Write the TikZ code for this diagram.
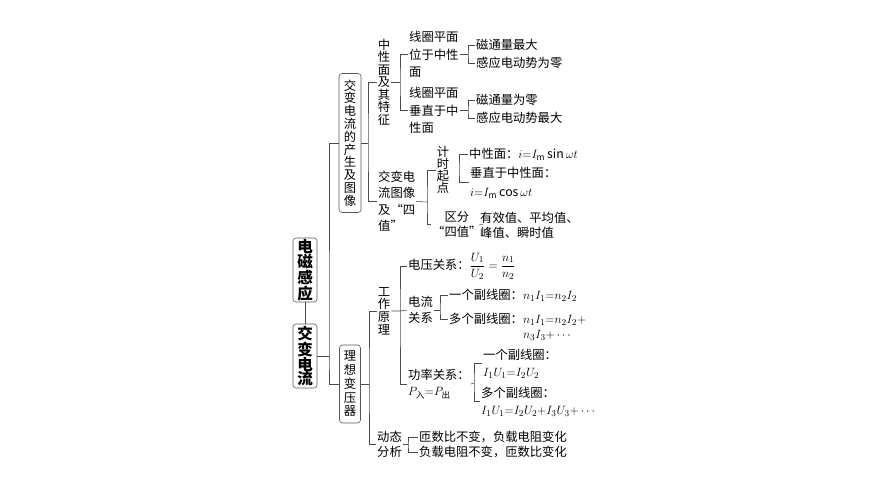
\documentclass[tikz,border=0pt]{standalone}
\usepackage{amsmath}
\usepackage{fontspec}
\setmainfont{Noto Sans CJK SC}
\usepackage{tikz}
\tikzset{
  kbox/.style={draw=black!65, rounded corners=3pt, line width=0.6pt, inner sep=0pt, align=center},
  vt/.style={align=center, inner sep=1pt, font=\fontsize{12.3}{12.5}\selectfont},
  tt/.style={align=left, anchor=west, inner sep=1pt, font=\fontsize{12.3}{17}\selectfont},
  ln/.style={draw=black!70, line width=0.6pt}
}

\begin{document}
\begin{tikzpicture}[x=1pt,y=-1pt]
\useasboundingbox (0,0) rectangle (870,489);
 \node[kbox, minimum width=24pt, minimum height=64pt, font=\bfseries\fontsize{15.5}{14.5}\selectfont] (dcgy) at (305,270) {电\\磁\\感\\应};
 \node[kbox, minimum width=24pt, minimum height=64pt, font=\bfseries\fontsize{15.5}{14.8}\selectfont] (jbdl) at (305,356) {交\\变\\电\\流};
 \node[kbox, minimum width=22pt, minimum height=139pt, font=\fontsize{12.3}{12.8}\selectfont] (cs) at (350,143) {交\\变\\电\\流\\的\\产\\生\\及\\图\\像};
 \node[kbox, minimum width=21pt, minimum height=78pt, font=\fontsize{12.3}{13.7}\selectfont] (lx) at (350,384) {理\\想\\变\\压\\器};
 \coordinate (k0) at (329,356);
 \draw[ln] (dcgy) -- (jbdl);
 \draw[ln] (jbdl.east) -- (k0);
 \draw[ln] (cs.west) -| (k0) |- (lx.west);

% 交变电流的产生及图像
 \node[vt] (zxm) at (384,82) {中\\性\\面\\及\\其\\特\\征};
 \node[tt, font=\fontsize{12.3}{16.5}\selectfont] (tx) at (377,201.5) {交变电\\流图像\\及“四\\值”};
 \coordinate (k1) at (368,143);
 \draw[ln] (cs.east) -- (k1);
 \draw[ln] (zxm.west) -| (k1) |- (tx.west);

 \node[tt, font=\fontsize{12.3}{17.5}\selectfont] (wy) at (408,54.5) {线圈平面\\位于中性\\面};
 \node[tt, font=\fontsize{12.3}{17.5}\selectfont] (cz) at (408,110.5) {线圈平面\\垂直于中\\性面};
 \coordinate (k2) at (400,82);
 \draw[ln] (zxm.east) -- (k2);
 \draw[ln] (wy.west) -| (k2) |- (cz.west);

 \node[tt] (cd1) at (475,45) {磁通量最大};
 \node[tt] (gy1) at (475,63) {感应电动势为零};
 \coordinate (k3) at (468,54.5);
 \draw[ln] (wy.east) -- (k3);
 \draw[ln] (cd1.west) -| (k3) |- (gy1.west);
 \node[tt] (cd2) at (475,100) {磁通量为零};
 \node[tt] (gy2) at (475,118) {感应电动势最大};
 \coordinate (k4) at (468,110.5);
 \draw[ln] (cz.east) -- (k4);
 \draw[ln] (cd2.west) -| (k4) |- (gy2.west);

 \node[vt, font=\fontsize{12.3}{12}\selectfont] (jsqd) at (443,170) {计\\时\\起\\点};
 \node[tt, align=center, font=\fontsize{12.3}{15}\selectfont] (qf) at (431,224.5) {区分\\“四值”};
 \coordinate (k5) at (427,202);
 \draw[ln] (tx.east) -- (k5);
 \draw[ln] (jsqd.west) -| (k5) |- (qf.west);

 \node[tt] (zx) at (468,154) {中性面：$i{=}I_{\mathrm m}\sin\omega t$};
 \node[tt, font=\fontsize{12.3}{19}\selectfont] (cz3) at (469,182.5) {垂直于中性面：\\$i{=}I_{\mathrm m}\cos\omega t$};
 \coordinate (k6) at (459,170);
 \draw[ln] (zx.west) -| (k6) |- (cz3.west);
 \node[tt, font=\fontsize{12.3}{15}\selectfont] (yx) at (479,225) {有效值、平均值、\\峰值、瞬时值};
 \draw[ln] (qf.east) -- (yx.west);

% 理想变压器
 \node[vt, font=\fontsize{12.3}{12.7}\selectfont] (gzyl) at (384,311) {工\\作\\原\\理};
 \node[tt, font=\fontsize{12.3}{15}\selectfont] (dtfx) at (376,444.5) {动态\\分析};
 \coordinate (k7) at (369,384);
 \draw[ln] (lx.east) -- (k7);
 \draw[ln] (gzyl.west) -| (k7) |- (dtfx.west);

 \node[tt] (dy) at (407,266) {电压关系：$\dfrac{U_1}{U_2}=\dfrac{n_1}{n_2}$};
 \node[tt, font=\fontsize{12.3}{16}\selectfont] (dl) at (407,310) {电流\\关系};
 \node[tt, font=\fontsize{12.3}{16}\selectfont] (gl) at (407,384) {功率关系：\\$P_{\text{入}}{=}P_{\text{出}}$};
 \coordinate (k8) at (400,311);
 \draw[ln] (gzyl.east) -- (k8) -- (dl.west);
 \draw[ln] (dy.west) -| (k8) |- (gl.west);

 \node[tt] (yg1) at (448,295) {一个副线圈：$n_1I_1{=}n_2I_2$};
 \node[tt] (dg1) at (448,319) {多个副线圈：$n_1I_1{=}n_2I_2{+}$};
 \node[tt] (dg1b) at (522,335) {$n_3I_3{+}\cdots$};
 \coordinate (k9) at (440,310);
 \draw[ln] (dl.east) -- (k9);
 \draw[ln] (yg1.west) -| (k9) |- (dg1.west);

 \node[tt] (yg2) at (482,363.5) {一个副线圈：\\$I_1U_1{=}I_2U_2$};
 \node[tt] (dg2) at (480,401.5) {多个副线圈：\\$I_1U_1{=}I_2U_2{+}I_3U_3{+}\cdots$};
 \coordinate (k10) at (474,383);
 \draw[ln] (gl.east) -- (k10);
 \draw[ln] (yg2.west) -| (k10) |- (dg2.west);

 \node[tt] (pz1) at (418,437) {匝数比不变，负载电阻变化};
 \node[tt] (pz2) at (418,452) {负载电阻不变，匝数比变化};
 \coordinate (k11) at (408,444.5);
 \draw[ln] (dtfx.east) -- (k11);
 \draw[ln] (pz1.west) -| (k11) |- (pz2.west);
\end{tikzpicture}
\end{document}
